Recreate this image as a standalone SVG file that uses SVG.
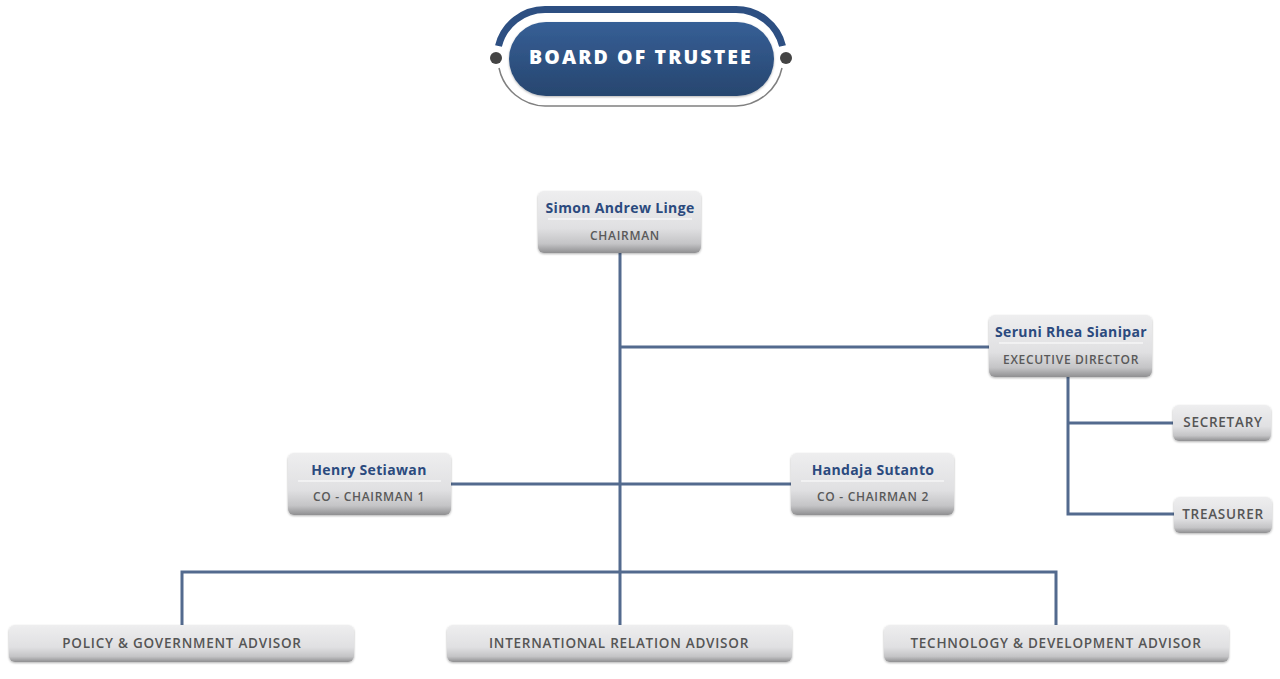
<svg xmlns="http://www.w3.org/2000/svg" width="1280" height="679" viewBox="0 0 1280 679">
<defs>
<linearGradient id="gBox" x1="0" y1="0" x2="0" y2="1">
<stop offset="0" stop-color="#eeeeef"/>
<stop offset="0.6" stop-color="#e0e0e2"/>
<stop offset="0.85" stop-color="#c4c4c6"/>
<stop offset="1" stop-color="#8f8f91"/>
</linearGradient>
<linearGradient id="gBlue" x1="0" y1="0" x2="0" y2="1">
<stop offset="0" stop-color="#365f96"/>
<stop offset="1" stop-color="#27466f"/>
</linearGradient>
<filter id="sh" x="-10%" y="-20%" width="120%" height="150%">
<feDropShadow dx="0" dy="1" stdDeviation="1" flood-color="#000" flood-opacity="0.3"/>
</filter>
</defs>
<style>
.box{fill:url(#gBox);filter:url(#sh)}
.name{font-family:"Open Sans","Liberation Sans",sans-serif;font-weight:700;font-size:14px;fill:#2b4a7e;text-anchor:middle;letter-spacing:0.35px}
.role{font-family:"Open Sans","Liberation Sans",sans-serif;font-weight:600;font-size:12px;fill:#595959;text-anchor:middle;letter-spacing:0.7px}
.lbl{font-family:"Open Sans","Liberation Sans",sans-serif;font-weight:600;font-size:13.5px;fill:#555;text-anchor:middle;letter-spacing:0.75px}
.div{stroke:#fff;stroke-width:1.2}
.con{fill:none;stroke:#536a8e;stroke-width:3}
</style>
<rect width="1280" height="679" fill="#fff"/>

<g id="header">
<path d="M498.5,46 A48,48 0 0 1 545,9.5 L736,9.5 A48,48 0 0 1 782.5,46" fill="none" stroke="#2d4f82" stroke-width="7"/>
<path d="M499,68 A48,48 0 0 0 545,106 L736,106 A48,48 0 0 0 782,68" fill="none" stroke="#808080" stroke-width="1.5"/>
<circle cx="496" cy="58" r="6" fill="#444"/>
<circle cx="786" cy="58" r="6" fill="#444"/>
<rect x="509" y="22" width="265" height="74" rx="37" fill="url(#gBlue)" filter="url(#sh)"/>
<text x="641" y="64" font-family="Open Sans,Liberation Sans,sans-serif" font-weight="800" font-size="19.5" fill="#fff" text-anchor="middle" letter-spacing="2.1">BOARD OF TRUSTEE</text>
</g>

<g id="connectors">
<path class="con" d="M620,253 V625"/>
<path class="con" d="M620,347 H989"/>
<path class="con" d="M451,484 H791"/>
<path class="con" d="M182,625 V572 H1056 V625"/>
<path class="con" d="M1068,377 V514 H1174"/>
<path class="con" d="M1068,423 H1173"/>
</g>

<g id="chairman">
<rect class="box" x="538" y="191" width="163" height="62" rx="6"/>
<text class="name" x="620" y="213">Simon Andrew Linge</text>
<line class="div" x1="548" y1="219" x2="692" y2="219"/>
<text class="role" x="625" y="240">CHAIRMAN</text>
</g>

<g id="executive-director">
<rect class="box" x="989" y="315" width="163" height="62" rx="6"/>
<text class="name" x="1071" y="337">Seruni Rhea Sianipar</text>
<line class="div" x1="999" y1="343" x2="1143" y2="343"/>
<text class="role" x="1071" y="364">EXECUTIVE DIRECTOR</text>
</g>

<g id="secretary">
<rect class="box" x="1173" y="405" width="98" height="36" rx="6"/>
<text class="lbl" x="1223" y="427">SECRETARY</text>
</g>

<g id="treasurer">
<rect class="box" x="1174" y="497" width="98" height="36" rx="6"/>
<text class="lbl" x="1223" y="519">TREASURER</text>
</g>

<g id="co-chairman-1">
<rect class="box" x="288" y="453" width="163" height="62" rx="6"/>
<text class="name" x="369" y="475">Henry Setiawan</text>
<line class="div" x1="298" y1="481" x2="441" y2="481"/>
<text class="role" x="369" y="501">CO - CHAIRMAN 1</text>
</g>

<g id="co-chairman-2">
<rect class="box" x="791" y="453" width="163" height="62" rx="6"/>
<text class="name" x="873" y="475">Handaja Sutanto</text>
<line class="div" x1="801" y1="481" x2="944" y2="481"/>
<text class="role" x="873" y="501">CO - CHAIRMAN 2</text>
</g>

<g id="policy-advisor">
<rect class="box" x="9" y="625" width="345" height="37" rx="6"/>
<text class="lbl" x="182" y="648">POLICY &amp; GOVERNMENT ADVISOR</text>
</g>

<g id="international-advisor">
<rect class="box" x="447" y="625" width="345" height="37" rx="6"/>
<text class="lbl" x="619" y="648">INTERNATIONAL RELATION ADVISOR</text>
</g>

<g id="technology-advisor">
<rect class="box" x="884" y="625" width="345" height="37" rx="6"/>
<text class="lbl" x="1056" y="648">TECHNOLOGY &amp; DEVELOPMENT ADVISOR</text>
</g>
</svg>
